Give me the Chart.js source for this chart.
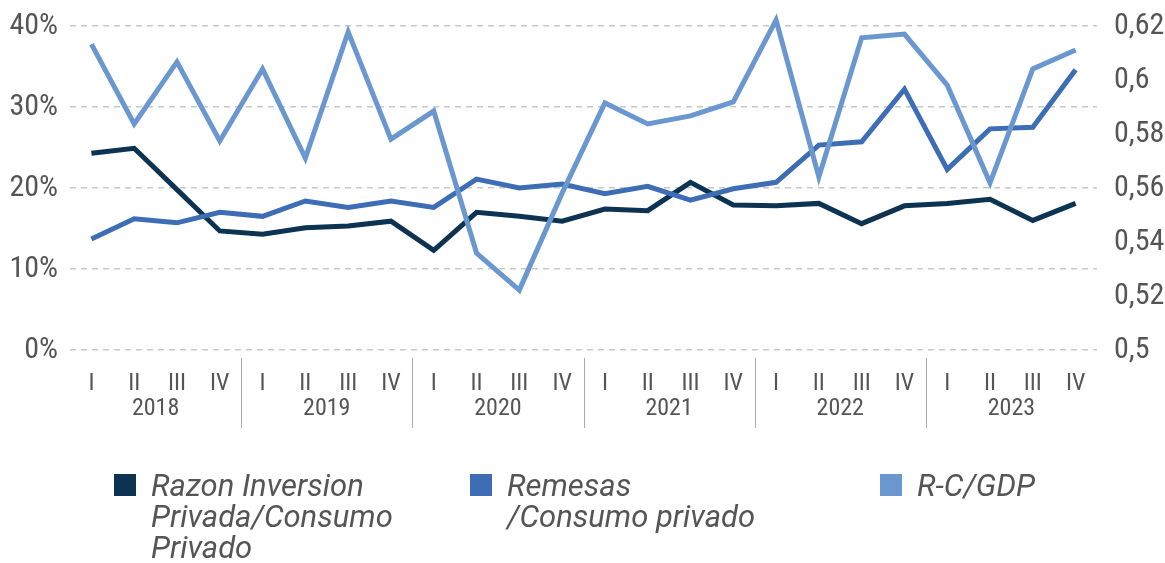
<!DOCTYPE html>
<html>
<head>
<meta charset="utf-8">
<script src="https://cdn.jsdelivr.net/npm/chart.js@4.4.1/dist/chart.umd.min.js"></script>
<style>
  html, body { margin:0; padding:0; background:#fff; }
  #wrap { position:relative; width:1165px; height:563px; }
  #wrap canvas { position:absolute; left:0; top:0; }
  .lg { position:absolute; font-family:Roboto,"Roboto Condensed",sans-serif;
        font-style:italic; font-size:31px; line-height:31px; color:#555; white-space:nowrap; }
  .lg i { position:absolute; left:0; top:4px; width:22px; height:22px; }
  .lg span { display:block; padding-left:37px; }
</style>
</head>
<body>
<div id="wrap">
  <canvas id="c" width="1165" height="563"></canvas>
  <div class="lg" style="left:114px;top:470px"><i style="background:#0d3353"></i><span>Razon Inversion<br>Privada/Consumo<br>Privado</span></div>
  <div class="lg" style="left:470px;top:470px"><i style="background:#3c6db5"></i><span>Remesas<br>/Consumo privado</span></div>
  <div class="lg" style="left:880px;top:470px"><i style="background:#6b97d1"></i><span>R-C/GDP</span></div>
</div>
<script>
  const FONT = '"Roboto Condensed","Liberation Sans Narrow","DejaVu Sans Condensed",Roboto,sans-serif';

  const years = ['2018','2019','2020','2021','2022','2023'];
  const quarters = ['I','II','III','IV'];
  const labels = years.flatMap(y => quarters.map(q => q));

  // % (eje izquierdo)
  const inversion = [24.3,24.9,19.8,14.7, 14.3,15.1,15.3,15.9, 12.3,17.0,16.5,15.9,
                     17.4,17.2,20.7,17.9, 17.8,18.1,15.6,17.8, 18.1,18.6,16.0,18.1];
  const remesas   = [13.7,16.2,15.7,17.0, 16.5,18.4,17.6,18.4, 17.6,21.1,20.0,20.5,
                     19.3,20.2,18.5,19.9, 20.7,25.3,25.7,32.2, 22.3,27.3,27.5,34.6];
  // ratio (eje derecho)
  const rcGdp     = [0.6133,0.5837,0.6067,0.5774, 0.6041,0.5711,0.6178,0.5781,
                     0.5885,0.5359,0.5222,0.5581, 0.5915,0.5837,0.5867,0.5919,
                     0.6222,0.5641,0.6156,0.6170, 0.5981,0.5619,0.6041,0.6111];

  const leftTicks = [0,10,20,30,40];
  const rightTicks = [0.5,0.52,0.54,0.56,0.58,0.6,0.62];

  /* años y separadores debajo de los trimestres */
  const yearAxis = {
    id:'yearAxis',
    afterDraw(chart){
      const { ctx, scales:{ x } } = chart;
      const half = (x.getPixelForValue(1) - x.getPixelForValue(0)) / 2;
      ctx.save();
      ctx.strokeStyle = '#aaa'; ctx.lineWidth = 1;
      ctx.fillStyle = '#555'; ctx.font = '24px ' + FONT;
      ctx.textAlign = 'center'; ctx.textBaseline = 'middle';
      years.forEach((y, i) => {
        const a = x.getPixelForValue(i*4) - half, b = x.getPixelForValue(i*4+3) + half;
        ctx.fillText(y, (a+b)/2, 409);
        if (i > 0){ ctx.beginPath(); ctx.moveTo(Math.round(a)+0.5, 358); ctx.lineTo(Math.round(a)+0.5, 428); ctx.stroke(); }
      });
      ctx.restore();
    }
  };

  const line = (label, data, color, axis) => ({
    label, data, yAxisID: axis, borderColor: color, backgroundColor: color,
    borderWidth: 5, pointRadius: 0, tension: 0, clip: false, fill: false
  });

  // ancho fijo de los ejes y sin relleno extra arriba/abajo
  const fitY = w => s => { s.width = w; s.paddingTop = 0; s.paddingBottom = 0; };

  new Chart(document.getElementById('c'), {
    type:'line',
    data:{ labels, datasets:[
      line('R-C/GDP', rcGdp, '#6b97d1', 'y2'),
      line('Remesas /Consumo privado', remesas, '#3c6db5', 'y'),
      line('Razon Inversion Privada/Consumo Privado', inversion, '#0d3353', 'y')
    ]},
    options:{
      responsive:false, animation:false,
      layout:{ padding:{ top:26, left:0, right:0, bottom:0 } },
      plugins:{ legend:{ display:false }, tooltip:{ enabled:false } },
      scales:{
        x:{ offset:true, grid:{ display:false }, border:{ display:false },
            ticks:{ color:'#555', font:{ family:FONT, size:24 }, padding:12, maxRotation:0, autoSkip:false },
            afterFit: s => { s.height = 213; } },
        y:{ position:'left', min:0, max:40,
            grid:{ color:'#c8c8c8', lineWidth:1.5, drawTicks:false },
            border:{ display:false, dash:[6,5] },
            afterBuildTicks: s => { s.ticks = leftTicks.map(v => ({ value:v })); },
            ticks:{ color:'#555', font:{ family:FONT, size:30 }, padding:12, callback: v => v + '%' },
            afterFit: fitY(70) },
        y2:{ position:'right', min:0.5, max:0.62, grid:{ display:false }, border:{ display:false },
            afterBuildTicks: s => { s.ticks = rightTicks.map(v => ({ value:v })); },
            ticks:{ color:'#555', font:{ family:FONT, size:30 }, padding:9,
                    callback: v => String(Math.round(v*100)/100).replace('.', ',') },
            afterFit: fitY(68) }
      }
    },
    plugins:[yearAxis]
  });
</script>
</body>
</html>
